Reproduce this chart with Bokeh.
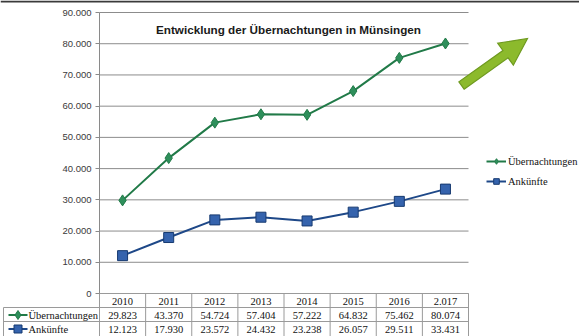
import math
from bokeh.plotting import figure
from bokeh.models import (Range1d, FixedTicker, Legend, LegendItem, Label, LinearAxis,
                          ColumnDataSource, Span)
from bokeh.embed import file_html
from bokeh.resources import INLINE
from bokeh.core.properties import value

# ---------------- data ----------------
years = ["2010", "2011", "2012", "2013", "2014", "2015", "2016", "2.017"]
uebernachtungen = [29823, 43370, 54724, 57404, 57222, 64832, 75462, 80074]
ankuenfte = [12123, 17930, 23572, 24432, 23238, 26057, 29511, 33431]
series_names = ["Übernachtungen", "Ankünfte"]
y_ticks = [0, 10000, 20000, 30000, 40000, 50000, 60000, 70000, 80000, 90000]
y_tick_labels = ["0", "10.000", "20.000", "30.000", "40.000", "50.000",
                 "60.000", "70.000", "80.000", "90.000"]
title_text = "Entwicklung der Übernachtungen in Münsingen"


def de(v):
    return f"{v:,}".replace(",", ".")


# ---------------- geometry helpers (pixel -> data) ----------------
W, H = 579, 336
AX_PX = 99            # x pixel of the value axis / first category edge
CAT_PX = 46.125       # width of one category in pixels
Y0_PX = 293           # pixel row of value 0
PX_PER_VAL = 281 / 90000.0
N = len(years)
xc = [i + 0.5 for i in range(N)]


def sx(px):
    return (px - AX_PX) / CAT_PX


def sy(py):
    return (Y0_PX - py) / PX_PER_VAL


GREEN = "#217a48"
GREEN_FILL = "#2e8f5b"
BLUE = "#1e4888"
BLUE_FILL = "#3563ad"
BLUE_EDGE = "#173a70"
GRID = "#8c8c8c"
TABLE_LINE = "#9a9a9a"
TXT = "#111111"
SERIF = value("Liberation Serif")

p = figure(width=W, height=H, toolbar_location=None, output_backend="svg",
           x_range=Range1d(sx(0), sx(W)), y_range=Range1d(sy(H), sy(0)),
           x_axis_location=None, y_axis_location=None, min_border=0,
           outline_line_color=None, background_fill_color="white",
           border_fill_color="white")
p.grid.visible = False

# dark border line at the very top
p.add_layout(Span(location=sy(1), dimension="width", line_color="#3a3a3a", line_width=2))

# value axis, drawn at category edge 0
yax = LinearAxis(fixed_location=0, bounds=(y_ticks[0], y_ticks[-1]),
                 ticker=FixedTicker(ticks=y_ticks))
yax.major_label_overrides = {t: l for t, l in zip(y_ticks, y_tick_labels)}
yax.axis_line_color = "#8a8a8a"
yax.major_tick_line_color = "#8a8a8a"
yax.major_tick_out = 4
yax.major_tick_in = 0
yax.minor_tick_line_color = None
yax.major_label_standoff = 4
yax.major_label_text_font = "Liberation Sans"
yax.major_label_text_font_size = "9.5px"
yax.major_label_text_color = "#3a3a3a"
p.add_layout(yax, "left")

# horizontal grid lines across the category area
p.segment(x0=[0] * len(y_ticks), x1=[N] * len(y_ticks), y0=y_ticks, y1=y_ticks,
          line_color=GRID, line_width=1)

# ---------------- series ----------------
src = ColumnDataSource(dict(x=xc, ueb=uebernachtungen, ank=ankuenfte))
l1 = p.line("x", "ueb", source=src, line_color=GREEN, line_width=2)
m1 = p.scatter("x", "ueb", source=src, marker="diamond", size=11,
               fill_color=GREEN_FILL, line_color=GREEN, line_width=1)
l2 = p.line("x", "ank", source=src, line_color=BLUE, line_width=2)
m2 = p.scatter("x", "ank", source=src, marker="square", size=10,
               fill_color=BLUE_FILL, line_color=BLUE_EDGE, line_width=1)

legend = Legend(items=[LegendItem(label=series_names[0], renderers=[l1, m1]),
                       LegendItem(label=series_names[1], renderers=[l2, m2])],
                location=(486, H - 191), padding=0, margin=0, spacing=0,
                glyph_width=20, glyph_height=14, label_height=20, label_standoff=2,
                border_line_color=None, background_fill_alpha=0,
                label_text_font="Liberation Serif", label_text_font_size="10.5px",
                label_text_color=TXT)
p.add_layout(legend)

# ---------------- title ----------------
p.add_layout(Label(x=sx(288), y=sy(29), text=title_text, text_align="center",
                   text_baseline="middle", text_font="Liberation Sans",
                   text_font_style="bold", text_font_size="11.7px",
                   text_color="#1a1a1a"))

# ---------------- decorative arrow ----------------
tail = (461.0, 85.0)
tip = (527.0, 38.0)
dx, dy = tip[0] - tail[0], tip[1] - tail[1]
L = math.hypot(dx, dy)
ux, uy = dx / L, dy / L
nx, ny = -uy, ux
head_len, head_half, shaft_half = 27.0, 13.5, 4.5
bx, by = tip[0] - ux * head_len, tip[1] - uy * head_len
pts = [
    (tail[0] + nx * shaft_half, tail[1] + ny * shaft_half),
    (bx + nx * shaft_half, by + ny * shaft_half),
    (bx + nx * head_half, by + ny * head_half),
    tip,
    (bx - nx * head_half, by - ny * head_half),
    (bx - nx * shaft_half, by - ny * shaft_half),
    (tail[0] - nx * shaft_half, tail[1] - ny * shaft_half),
]
p.patch(x=[sx(a) for a, _ in pts], y=[sy(b) for _, b in pts],
        fill_color="#8cba2c", line_color="#6f9a20", line_width=1.2,
        line_join="miter")

# ---------------- data table ----------------
row_edges = [sy(293), sy(307), sy(321), sy(H)]
row_mid = [sy(300.5), sy(314.5), sy(328.5)]
x_left = sx(3)
p.segment(x0=[0, x_left, x_left], y0=row_edges[:3], x1=[N, N, N], y1=row_edges[:3],
          line_color=TABLE_LINE, line_width=1)
vx = [x_left] + list(range(N + 1))
vy0 = [row_edges[1]] + [row_edges[0]] * (N + 1)
vy1 = [row_edges[3]] * (N + 2)
p.segment(x0=vx, y0=vy0, x1=vx, y1=vy1, line_color=TABLE_LINE, line_width=1)

for ry, labels in zip(row_mid, [years, [de(v) for v in uebernachtungen],
                                [de(v) for v in ankuenfte]]):
    p.text(x=xc, y=[ry] * N, text=labels, text_align="center", text_baseline="middle",
           text_font=SERIF, text_font_size="10.5px", text_color=TXT)

# row keys in the table's first column
p.segment(x0=[sx(8)], y0=[row_mid[1]], x1=[sx(27)], y1=[row_mid[1]],
          line_color=GREEN, line_width=2)
p.scatter(x=[sx(17.5)], y=[row_mid[1]], marker="diamond", size=9,
          fill_color=GREEN_FILL, line_color=GREEN)
p.segment(x0=[sx(8)], y0=[row_mid[2]], x1=[sx(27)], y1=[row_mid[2]],
          line_color=BLUE, line_width=2)
p.scatter(x=[sx(17.5)], y=[row_mid[2]], marker="square", size=8,
          fill_color=BLUE_FILL, line_color=BLUE_EDGE)
p.text(x=[sx(28)] * 2, y=row_mid[1:], text=series_names, text_align="left",
       text_baseline="middle", text_font=SERIF, text_font_size="10.5px",
       text_color=TXT)

open("out.html", "w").write(file_html(p, INLINE))
